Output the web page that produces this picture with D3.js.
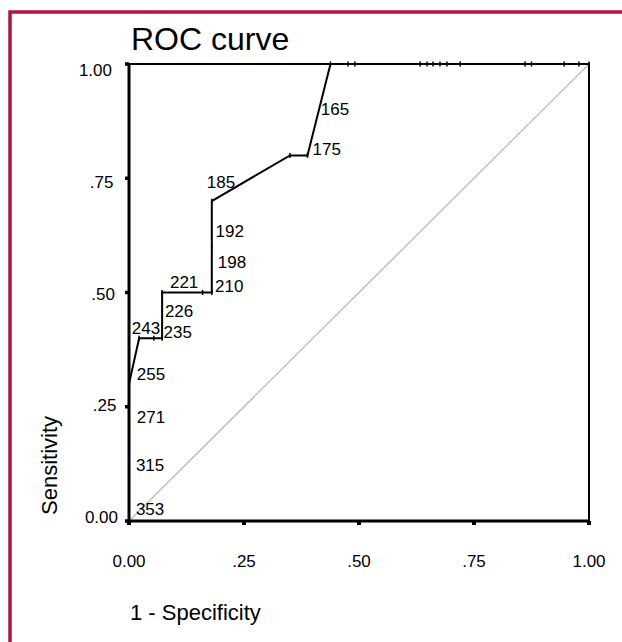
<!DOCTYPE html>
<html>
<head>
<meta charset="utf-8">
<script src="https://cdn.jsdelivr.net/npm/d3@7"></script>
<style>
  body { margin: 0; background: #fff; }
  text { font-family: "Liberation Sans", Arial, sans-serif; fill: #000; }
</style>
</head>
<body>
<div id="chart"></div>
<script>
// ROC points in curve order (1 - specificity, sensitivity)
const rocFpr = [0, 0, 0, 0, 0.022, 0.054, 0.072, 0.072, 0.16, 0.18, 0.18, 0.18, 0.35, 0.388, 0.438,
                0.476, 0.491, 0.633, 0.648, 0.661, 0.676, 0.691, 0.72, 0.861, 0.875, 0.946, 0.978, 1];
const rocTpr = [0, 0.1, 0.2, 0.3, 0.4, 0.4, 0.4, 0.5, 0.5, 0.5, 0.6, 0.7, 0.8, 0.8, 1,
                1, 1, 1, 1, 1, 1, 1, 1, 1, 1, 1, 1, 1];

// cut-off labels and where they sit on the plot
const cutoffLabels = ["353", "315", "271", "255", "243", "235", "226", "221", "210", "198", "192", "185", "175", "165"];
const labelFpr = [0.015, 0.015, 0.017, 0.017, 0.006, 0.075, 0.078, 0.089, 0.187, 0.193, 0.188, 0.169, 0.399, 0.417];
const labelTpr = [0.013, 0.109, 0.214, 0.309, 0.409, 0.400, 0.446, 0.510, 0.502, 0.554, 0.621, 0.729, 0.801, 0.888];

const tickValues = [0, 0.25, 0.5, 0.75, 1];
const tickFormat = d => d === 0 ? "0.00" : d === 1 ? "1.00" : d3.format(".2f")(d).replace(/^0/, "");

const width = 622, height = 642;

const svg = d3.select("#chart").append("svg")
    .attr("width", width)
    .attr("height", height);

// outer frame
svg.append("rect")
    .attr("x", 10).attr("y", 12)
    .attr("width", 700).attr("height", 700)
    .attr("fill", "none")
    .attr("stroke", "#b5133f")
    .attr("stroke-width", 3.5);

const x = d3.scaleLinear().domain([0, 1]).range([129, 589]);
const y = d3.scaleLinear().domain([0, 1]).range([521, 64]);
// y tick labels are spread a little tighter than the ticks
const yLabel = d3.scaleLinear().domain([0, 1]).range([523, 76]);
const yLabelX = d3.scaleLinear().domain([0, 1]).range([118, 112]);

// title
svg.append("text")
    .attr("x", 131).attr("y", 50)
    .attr("font-size", 32)
    .text("ROC curve");

// reference diagonal
svg.append("line")
    .attr("x1", x(0)).attr("y1", y(0))
    .attr("x2", x(1)).attr("y2", y(1))
    .attr("stroke", "#c0c0c0")
    .attr("stroke-width", 1.5);

// plot frame
svg.append("rect")
    .attr("x", x(0)).attr("y", y(1))
    .attr("width", x(1) - x(0)).attr("height", y(0) - y(1))
    .attr("fill", "none")
    .attr("stroke", "#000")
    .attr("stroke-width", 2);

// heavier left and bottom axes
svg.append("line")
    .attr("x1", x(0)).attr("y1", y(0))
    .attr("x2", x(1)).attr("y2", y(0))
    .attr("stroke", "#000").attr("stroke-width", 3);
svg.append("line")
    .attr("x1", x(0)).attr("y1", y(0))
    .attr("x2", x(0)).attr("y2", y(1))
    .attr("stroke", "#000").attr("stroke-width", 3);

// ROC curve
const pts = rocFpr.map((f, i) => [f, rocTpr[i]]);
svg.append("path")
    .datum(pts)
    .attr("fill", "none")
    .attr("stroke", "#000")
    .attr("stroke-width", 2)
    .attr("d", d3.line().x(d => x(d[0])).y(d => y(d[1])));

// small point marks
svg.selectAll(".mark")
    .data(pts)
    .enter().append("rect")
    .attr("class", "mark")
    .attr("x", d => x(d[0]) - 0.75)
    .attr("y", d => y(d[1]) - 2.5)
    .attr("width", 1.5)
    .attr("height", 5)
    .attr("fill", "#000");

// y ticks
svg.selectAll(".ytick")
    .data(tickValues)
    .enter().append("rect")
    .attr("class", "ytick")
    .attr("x", x(0) - 4)
    .attr("y", d => y(d) - 1.75)
    .attr("width", 4).attr("height", 3.5)
    .attr("fill", "#000");

svg.selectAll(".ylabel")
    .data(tickValues)
    .enter().append("text")
    .attr("class", "ylabel")
    .attr("x", d => yLabelX(d))
    .attr("y", d => yLabel(d))
    .attr("text-anchor", "end")
    .attr("font-size", 17)
    .text(tickFormat);

// x ticks
svg.selectAll(".xtick")
    .data(tickValues)
    .enter().append("rect")
    .attr("class", "xtick")
    .attr("x", d => x(d) - 2)
    .attr("y", y(0))
    .attr("width", 4).attr("height", 4)
    .attr("fill", "#000");

svg.selectAll(".xlabel")
    .data(tickValues)
    .enter().append("text")
    .attr("class", "xlabel")
    .attr("x", d => x(d))
    .attr("y", 567)
    .attr("text-anchor", "middle")
    .attr("font-size", 17)
    .text(tickFormat);

// cut-off labels
svg.selectAll(".cut")
    .data(cutoffLabels)
    .enter().append("text")
    .attr("class", "cut")
    .attr("x", (d, i) => x(labelFpr[i]))
    .attr("y", (d, i) => y(labelTpr[i]))
    .attr("font-size", 17)
    .text(d => d);

// axis titles
svg.append("text")
    .attr("transform", "translate(57,515) rotate(-90)")
    .attr("font-size", 22)
    .text("Sensitivity");

svg.append("text")
    .attr("x", 130).attr("y", 620)
    .attr("font-size", 22)
    .text("1 - Specificity");
</script>
</body>
</html>
